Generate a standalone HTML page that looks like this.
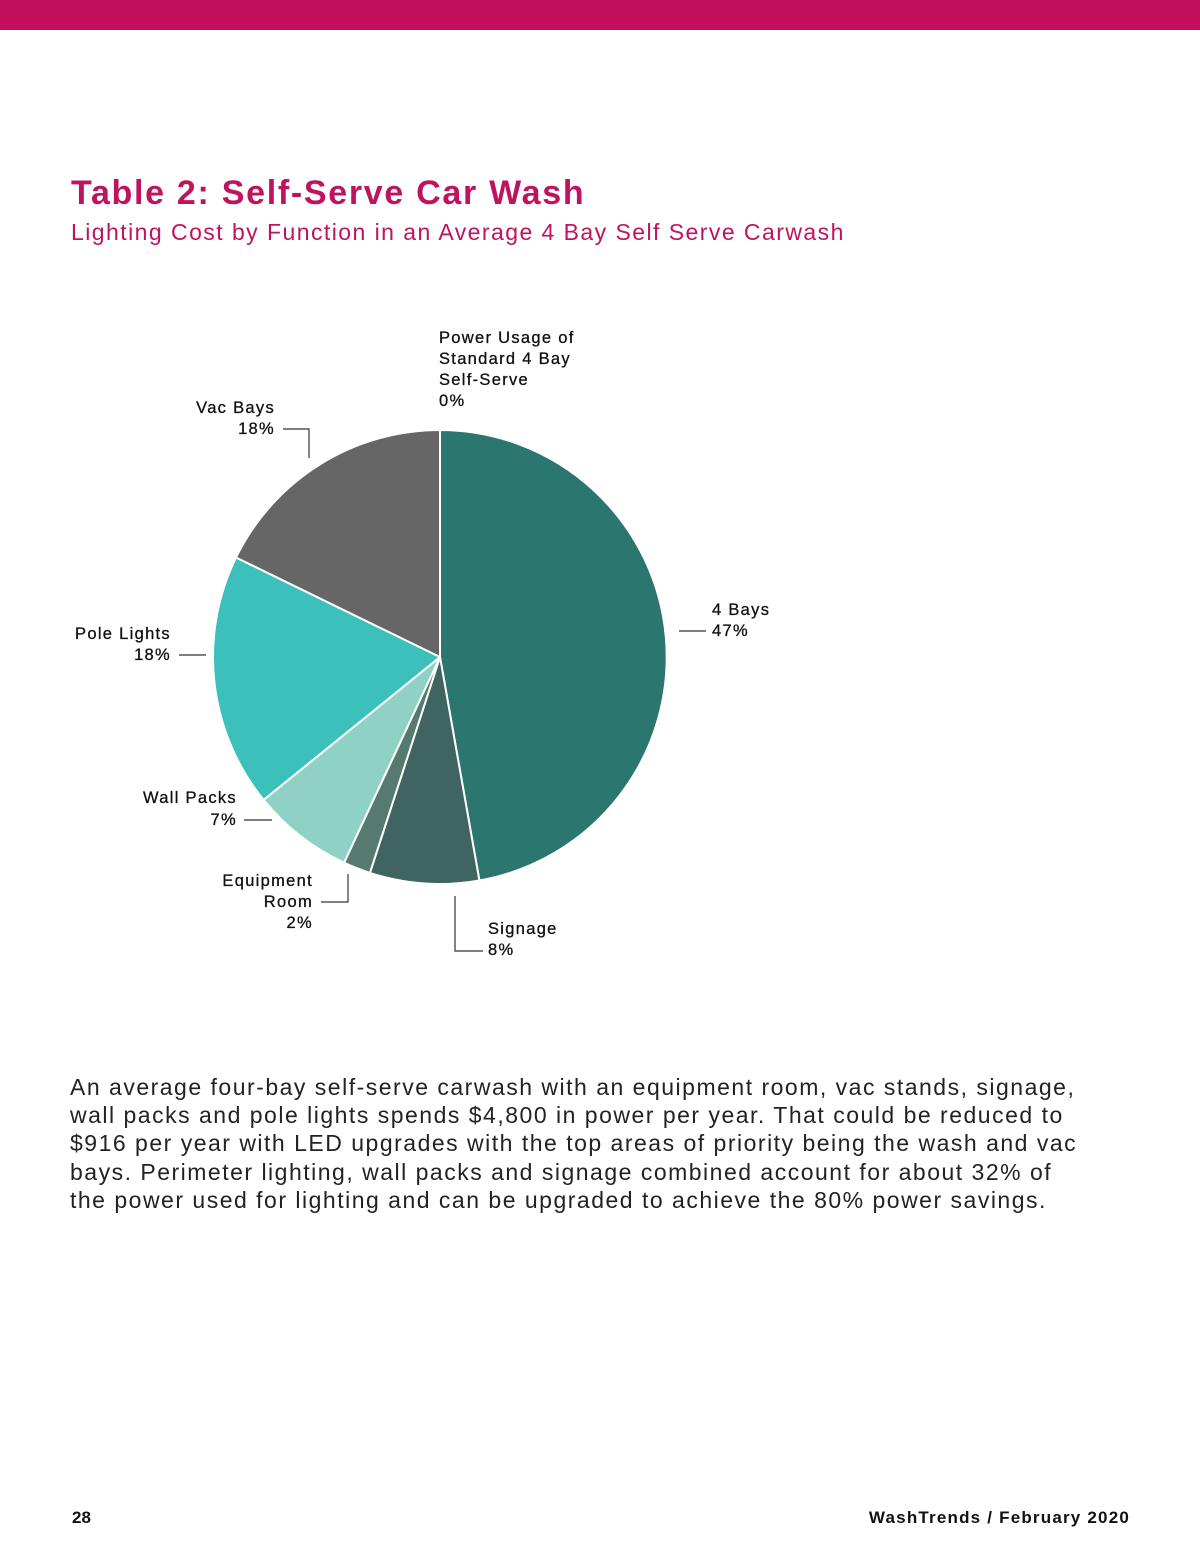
<!DOCTYPE html>
<html><head><meta charset="utf-8"><style>
body{margin:0;width:1200px;height:1553px;background:#fff;position:relative;font-family:"Liberation Sans",sans-serif;overflow:hidden}
.bar{position:absolute;left:0;top:0;width:1200px;height:30px;background:#c2105e}
.t{position:absolute;white-space:nowrap}
</style></head><body>
<div class="bar"></div>
<div class="t" style="left:71px;top:174px;font-size:34px;font-weight:bold;color:#c0135f;letter-spacing:1.7px">Table 2: Self-Serve Car Wash</div>
<div class="t" style="left:71px;top:219px;font-size:23px;color:#c0135f;letter-spacing:1.45px">Lighting Cost by Function in an Average 4 Bay Self Serve Carwash</div>
<svg style="position:absolute;left:0;top:0" width="1200" height="1553">
<g stroke="#fff" stroke-width="2" stroke-linejoin="round">
<path d="M440,657 L440,430 A227,227 0 0 1 479.4,880.5 Z" fill="#2b766f"/>
<path d="M440,657 L479.4,880.5 A227,227 0 0 1 369.9,872.9 Z" fill="#3f6461"/>
<path d="M440,657 L369.9,872.9 A227,227 0 0 1 344.1,862.7 Z" fill="#567a70"/>
<path d="M440,657 L344.1,862.7 A227,227 0 0 1 263.6,799.9 Z" fill="#8fd1c4"/>
<path d="M440,657 L263.6,799.9 A227,227 0 0 1 236.0,557.5 Z" fill="#3bc0bc"/>
<path d="M440,657 L236.0,557.5 A227,227 0 0 1 440,430 Z" fill="#666666"/>
</g>
<g stroke="#333" stroke-width="1.2" fill="none">
<polyline points="283,429 309,429 309,458"/>
<line x1="179" y1="655" x2="206" y2="655"/>
<line x1="244" y1="820" x2="272" y2="820"/>
<polyline points="321,902 348,902 348,874"/>
<polyline points="455,896 455,951 483,951"/>
<line x1="679" y1="631" x2="706" y2="631"/>
</g>
<g font-family="Liberation Sans, sans-serif" font-size="16.5" fill="#111" letter-spacing="1.3" stroke="#111" stroke-width="0.3">
<text x="439" y="343">Power Usage of</text>
<text x="439" y="364">Standard 4 Bay</text>
<text x="439" y="385">Self-Serve</text>
<text x="439" y="406">0%</text>
<text x="275" y="413" text-anchor="end">Vac Bays</text>
<text x="275" y="434" text-anchor="end">18%</text>
<text x="171" y="639" text-anchor="end">Pole Lights</text>
<text x="171" y="660" text-anchor="end">18%</text>
<text x="237" y="803" text-anchor="end">Wall Packs</text>
<text x="237" y="825" text-anchor="end">7%</text>
<text x="313" y="886" text-anchor="end">Equipment</text>
<text x="313" y="907" text-anchor="end">Room</text>
<text x="313" y="928" text-anchor="end">2%</text>
<text x="488" y="934">Signage</text>
<text x="488" y="955">8%</text>
<text x="712" y="615">4 Bays</text>
<text x="712" y="636">47%</text>
</g>
</svg>
<div class="t" style="left:70px;top:1073px;font-size:23px;line-height:28.2px;color:#222;white-space:nowrap;letter-spacing:1.5px">An average four-bay self-serve carwash with an equipment room, vac stands, signage,<br>wall packs and pole lights spends $4,800 in power per year. That could be reduced to<br>$916 per year with LED upgrades with the top areas of priority being the wash and vac<br>bays. Perimeter lighting, wall packs and signage combined account for about 32% of<br>the power used for lighting and can be upgraded to achieve the 80% power savings.</div>
<div class="t" style="left:72px;top:1508px;font-size:17px;font-weight:bold;color:#111">28</div>
<div class="t" style="right:70px;top:1508px;font-size:17px;font-weight:bold;color:#111;letter-spacing:1.2px">WashTrends / February 2020</div>
</body></html>
